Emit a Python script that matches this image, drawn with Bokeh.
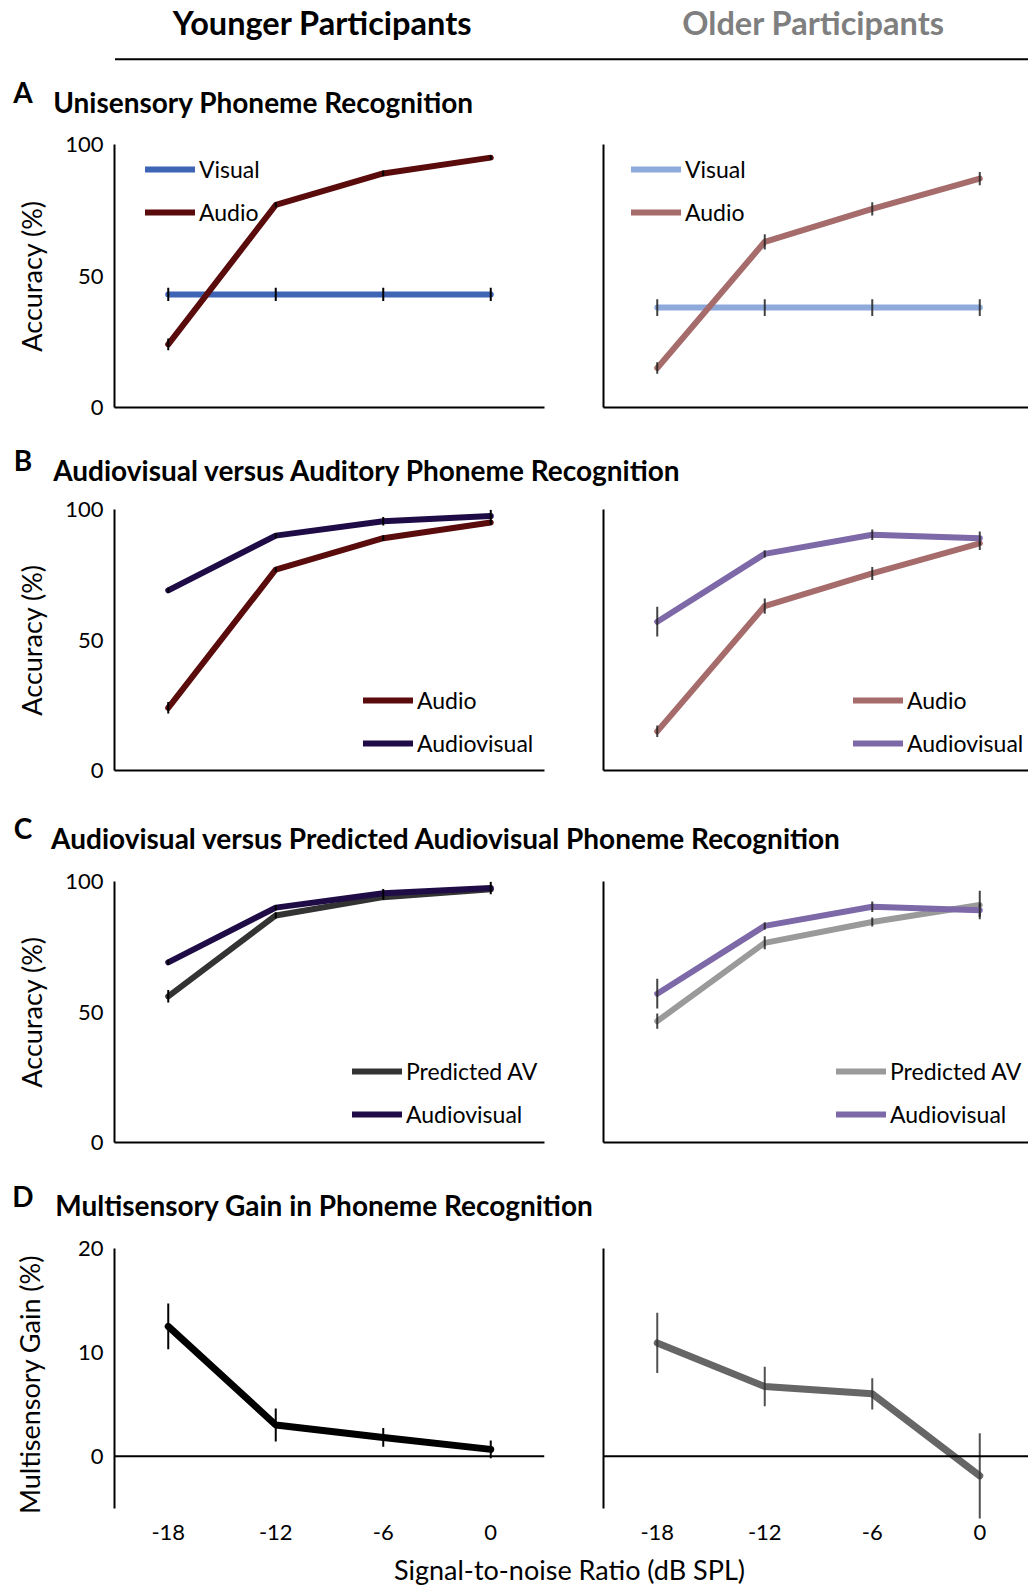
import numpy as np
from bokeh.plotting import figure
from bokeh.layouts import column, row
from bokeh.models import Range1d, FixedTicker, Legend, LegendItem, Label, Span, BoxAnnotation
from bokeh.embed import file_html
from bokeh.resources import INLINE

FONT = "Lato"

# ---------------- data ----------------
snr = [-18, -12, -6, 0]
snr_labels = {-18: "-18", -12: "-12", -6: "-6", 0: "0"}

young_visual = [43, 43, 43, 43]
young_visual_err = [2.5, 2.5, 2.5, 2.5]
young_audio = [24, 77, 89, 95]
young_audio_err = [2.2, 1.0, 1.1, 0.8]
young_av = [69, 90, 95.5, 97.5]
young_av_err = [1.0, 1.0, 1.6, 2.4]
young_pred = [56, 87, 94, 97]
young_pred_err = [2.4, 1.2, 1.0, 0.8]
young_gain = [12.5, 3.0, 1.8, 0.65]
young_gain_err = [2.2, 1.6, 0.9, 0.85]

old_visual = [38, 38, 38, 38]
old_visual_err = [3.2, 3.2, 3.2, 3.2]
old_audio = [15, 63, 75.5, 87]
old_audio_err = [2.2, 2.9, 2.5, 2.5]
old_av = [57, 83, 90.3, 89]
old_av_err = [5.7, 1.4, 2.0, 2.6]
old_pred = [46.5, 76.5, 84.5, 91]
old_pred_err = [2.9, 2.5, 1.7, 5.5]
old_gain = [10.9, 6.7, 6.0, -1.9]
old_gain_err = [2.9, 1.9, 1.5, 4.1]

acc_ticks = [0, 50, 100]
gain_ticks = [0, 10, 20]

# colours
C_Y_VIS = "#3E64B5"
C_Y_AUD = "#5A0B0B"
C_Y_AV = "#1F0C47"
C_Y_PRED = "#333333"
C_Y_GAIN = "#000000"
C_O_VIS = "#8DAADB"
C_O_AUD = "#A66B6B"
C_O_AV = "#7D68A8"
C_O_PRED = "#9A9A9A"
C_O_GAIN = "#666666"

W_LEFT, W_RIGHT, W_ALL = 560, 468, 1028


def make_panel(side, y0, y1, frame_h, top, bottom, yticks, ylabel=None,
               label_standoff=14, xlabels=False, bounds=None):
    left = side == "left"
    p = figure(width=W_LEFT if left else W_RIGHT, height=top + frame_h + bottom,
               x_range=Range1d(-21, 3.0 if left else 2.72), y_range=Range1d(y0, y1),
               output_backend="svg", toolbar_location=None,
               min_border_left=114 if left else 43, min_border_right=16 if left else 0,
               min_border_top=top, min_border_bottom=bottom)
    p.grid.visible = False
    p.outline_line_color = None
    ya = p.yaxis[0]
    ya.ticker = FixedTicker(ticks=yticks if left else [])
    ya.axis_line_color = "black"
    ya.axis_line_width = 2
    ya.major_tick_line_color = None
    ya.minor_tick_line_color = None
    ya.major_label_standoff = 5
    ya.major_label_text_font = FONT
    ya.major_label_text_font_size = "22px"
    ya.major_label_text_color = "black"
    if bounds is not None:
        ya.bounds = bounds
    if left and ylabel:
        ya.axis_label = ylabel
        ya.axis_label_text_font = FONT
        ya.axis_label_text_font_size = "27px"
        ya.axis_label_text_font_style = "normal"
        ya.axis_label_text_color = "black"
        ya.axis_label_standoff = label_standoff
    xa = p.xaxis[0]
    xa.minor_tick_line_color = None
    xa.major_tick_line_color = None
    if xlabels:
        xa.ticker = FixedTicker(ticks=snr)
        xa.major_label_overrides = snr_labels
        xa.axis_line_color = None
        xa.major_label_standoff = -2
        xa.major_label_text_font = FONT
        xa.major_label_text_font_size = "22px"
        xa.major_label_text_color = "black"
    else:
        xa.ticker = FixedTicker(ticks=[])
        xa.axis_line_color = "black"
        xa.axis_line_width = 2
    return p


def series(p, vals, errs, color, width=6, err_color="black", err_alpha=1.0):
    v = np.array(vals, dtype=float)
    e = np.array(errs, dtype=float)
    r = p.line(snr, v, line_color=color, line_width=width,
               line_cap="round", line_join="round")
    p.segment(x0=snr, y0=v - e, x1=snr, y1=v + e, line_color=err_color,
              line_width=2, line_alpha=err_alpha)
    return r


def add_legend(p, items, x, y):
    leg = Legend(items=[LegendItem(label=l, renderers=[r]) for l, r in items],
                 location=(x, y), orientation="vertical",
                 glyph_width=50, glyph_height=28, label_height=28,
                 label_standoff=4, spacing=15, padding=0, margin=0,
                 border_line_color=None, background_fill_alpha=0,
                 label_text_font=FONT, label_text_font_size="23px",
                 label_text_color="black", label_text_baseline="middle")
    p.add_layout(leg)


def strip(h):
    p = figure(width=W_ALL, height=h, x_range=Range1d(0, W_ALL), y_range=Range1d(0, h),
               output_backend="svg", toolbar_location=None, min_border=0,
               x_axis_location=None, y_axis_location=None)
    p.grid.visible = False
    p.outline_line_color = None
    return p


def title_strip(h, letter, title, y_letter, y_title, x_title):
    p = strip(h)
    p.add_layout(Label(x=22.5, y=y_letter, text=letter, text_font=FONT,
                       text_font_size="28px", text_font_style="bold",
                       text_align="center", text_baseline="middle", text_color="black"))
    p.add_layout(Label(x=x_title, y=y_title, text=title, text_font=FONT,
                       text_font_size="28px", text_font_style="bold",
                       text_align="left", text_baseline="middle", text_color="black"))
    return p


# ---------------- header ----------------
header = strip(75)
header.add_layout(Label(x=322, y=52.7, text="Younger Participants", text_font=FONT,
                        text_font_size="32.5px", text_font_style="bold", text_align="center",
                        text_baseline="middle", text_color="black"))
header.add_layout(Label(x=813, y=52.7, text="Older Participants", text_font=FONT,
                        text_font_size="32.5px", text_font_style="bold", text_align="center",
                        text_baseline="middle", text_color="#7F7F7F"))
header.add_layout(BoxAnnotation(left=114.5, right=W_ALL, bottom=15.3, top=17.3,
                                fill_color="black", fill_alpha=1, line_color=None))

# ---------------- panel A ----------------
tA = title_strip(49, "A", "Unisensory Phoneme Recognition", 33, 22.7, 52.7)
aL = make_panel("left", 0, 100, 263, 20, 23, acc_ticks, "Accuracy (%)")
r1 = series(aL, young_visual, young_visual_err, C_Y_VIS)
r2 = series(aL, young_audio, young_audio_err, C_Y_AUD)
add_legend(aL, [("Visual", r1), ("Audio", r2)], 31, 181)
aR = make_panel("right", 0, 100, 263, 20, 23, acc_ticks)
r1 = series(aR, old_visual, old_visual_err, C_O_VIS, err_color="#222222", err_alpha=0.85)
r2 = series(aR, old_audio, old_audio_err, C_O_AUD, err_color="#222222", err_alpha=0.85)
add_legend(aR, [("Visual", r1), ("Audio", r2)], 28, 181)

# ---------------- panel B ----------------
tB = title_strip(59, "B", "Audiovisual versus Auditory Phoneme Recognition", 30, 20, 52.7)
bL = make_panel("left", 0, 100, 261, 20, 23, acc_ticks, "Accuracy (%)")
r1 = series(bL, young_audio, young_audio_err, C_Y_AUD)
r2 = series(bL, young_av, young_av_err, C_Y_AV)
add_legend(bL, [("Audio", r1), ("Audiovisual", r2)], 249, 13)
bR = make_panel("right", 0, 100, 261, 20, 23, acc_ticks)
r1 = series(bR, old_audio, old_audio_err, C_O_AUD, err_color="#222222", err_alpha=0.85)
r2 = series(bR, old_av, old_av_err, C_O_AV, err_color="#222222", err_alpha=0.85)
add_legend(bR, [("Audio", r1), ("Audiovisual", r2)], 250, 13)

# ---------------- panel C ----------------
tC = title_strip(68, "C", "Audiovisual versus Predicted Audiovisual Phoneme Recognition",
                 33.5, 23.4, 50.6)
cL = make_panel("left", 0, 100, 261, 20, 22, acc_ticks, "Accuracy (%)")
r1 = series(cL, young_pred, young_pred_err, C_Y_PRED)
r2 = series(cL, young_av, young_av_err, C_Y_AV)
add_legend(cL, [("Predicted AV", r1), ("Audiovisual", r2)], 238, 14)
cR = make_panel("right", 0, 100, 261, 20, 22, acc_ticks)
r1 = series(cR, old_pred, old_pred_err, C_O_PRED, err_color="#222222", err_alpha=0.85)
r2 = series(cR, old_av, old_av_err, C_O_AV, err_color="#222222", err_alpha=0.85)
add_legend(cR, [("Predicted AV", r1), ("Audiovisual", r2)], 233, 14)

# ---------------- panel D ----------------
tD = title_strip(64, "D", "Multisensory Gain in Phoneme Recognition", 33, 24, 54.7)
dL = make_panel("left", -6.2, 20, 272, 20, 28, gain_ticks, "Multisensory Gain (%)",
                label_standoff=29, xlabels=True, bounds=(-5, 20))
dL.add_layout(Span(location=0, dimension="width", line_color="black", line_width=2))
series(dL, young_gain, young_gain_err, C_Y_GAIN, width=7)
dR = make_panel("right", -6.2, 20, 272, 20, 28, gain_ticks, xlabels=True, bounds=(-5, 20))
dR.add_layout(Span(location=0, dimension="width", line_color="black", line_width=2))
series(dR, old_gain, old_gain_err, C_O_GAIN, width=7, err_color="#333333", err_alpha=0.85)

bottom = strip(40)
bottom.add_layout(Label(x=569, y=19, text="Signal-to-noise Ratio (dB SPL)", text_font=FONT,
                        text_font_size="27px", text_align="center", text_baseline="middle",
                        text_color="black"))

root = column(header, tA, row(aL, aR), tB, row(bL, bR), tC, row(cL, cR),
              tD, row(dL, dR), bottom)

open("out.html", "w").write(file_html(root, INLINE))
